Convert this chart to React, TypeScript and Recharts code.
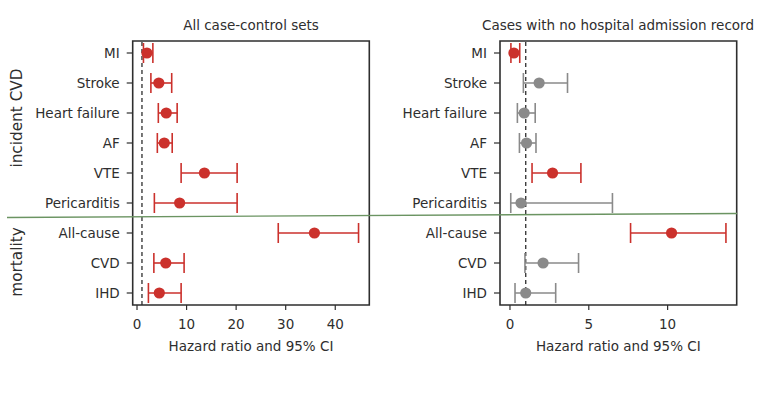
import React from "react";
import {
  ComposedChart,
  Scatter,
  ErrorBar,
  XAxis,
  YAxis,
  ReferenceLine,
  ReferenceArea,
} from "recharts";

// outcome rows, top to bottom
const outcomes = [
  "MI",
  "Stroke",
  "Heart failure",
  "AF",
  "VTE",
  "Pericarditis",
  "All-cause",
  "CVD",
  "IHD",
];

// all case-control sets
const allHr = [2.0, 4.4, 5.9, 5.5, 13.6, 8.6, 35.8, 5.8, 4.5];
const allLo = [1.3, 2.8, 4.3, 4.1, 8.9, 3.5, 28.5, 3.4, 2.3];
const allHi = [3.2, 7.0, 8.1, 7.1, 20.2, 20.2, 44.7, 9.5, 8.9];

// cases with no hospital admission record
const noAdmHr = [0.25, 1.85, 0.9, 1.05, 2.7, 0.7, 10.25, 2.1, 1.0];
const noAdmLo = [0.06, 0.85, 0.47, 0.6, 1.4, 0.05, 7.65, 0.95, 0.32];
const noAdmHi = [0.62, 3.65, 1.6, 1.65, 4.5, 6.5, 13.7, 4.35, 2.9];

const allTicks = [0, 10, 20, 30, 40];
const noAdmTicks = [0, 5, 10];

const RED = "#cb312c";
const GREY = "#8a8a8a";
const INK = "#2e2e2e";
const FONT = "DejaVu Sans";

const buildRows = (hr: number[], lo: number[], hi: number[]) =>
  hr.map((v, i) => ({
    row: i,
    hr: v,
    err: [v - lo[i], hi[i] - v],
    sig: lo[i] > 1 || hi[i] < 1,
  }));

const dot = (fill: string) => (p: any) =>
  <circle cx={p.cx} cy={p.cy} r={5.6} fill={fill} />;

interface PanelProps {
  hr: number[];
  lo: number[];
  hi: number[];
  ticks: number[];
  yWidth: number;
  width: number;
  marginRight: number;
}

const ROW_DOMAIN: [number, number] = [-0.4, 8.4];

const ForestPanel: React.FC<PanelProps> = ({ hr, lo, hi, ticks, yWidth, width, marginRight }) => {
  const rows = buildRows(hr, lo, hi);
  const red = rows.filter((r) => r.sig);
  const grey = rows.filter((r) => !r.sig);
  const min = Math.min(...lo);
  const max = Math.max(...hi);
  const pad = (max - min) * 0.05;
  const domain: [number, number] = [min - pad, max + pad];
  const tickStyle = { fontSize: 13.5, fill: INK, fontFamily: FONT };

  return (
    <ComposedChart
      width={width}
      height={396}
      margin={{ top: 41, right: marginRight, bottom: 45, left: 0 }}
    >
      <XAxis
        type="number"
        dataKey="hr"
        domain={domain}
        allowDataOverflow
        ticks={ticks}
        interval={0}
        tick={tickStyle}
        tickSize={5}
        tickMargin={9}
        axisLine={false}
        tickLine={{ stroke: INK, strokeWidth: 1.2 }}
        height={46}
        label={{
          value: "Hazard ratio and 95% CI",
          position: "insideBottom",
          offset: 0,
          fill: INK,
          fontSize: 13.5,
          fontFamily: FONT,
        }}
      />
      <YAxis
        type="number"
        dataKey="row"
        domain={ROW_DOMAIN}
        allowDataOverflow
        reversed
        ticks={outcomes.map((_, i) => i)}
        interval={0}
        tickFormatter={(i: number) => outcomes[i]}
        tick={tickStyle}
        tickSize={6}
        tickMargin={7}
        axisLine={false}
        tickLine={{ stroke: INK, strokeWidth: 1.2 }}
        width={yWidth}
      />
      <ReferenceArea
        x1={domain[0]}
        x2={domain[1]}
        y1={ROW_DOMAIN[0]}
        y2={ROW_DOMAIN[1]}
        fill="none"
        stroke={INK}
        strokeWidth={1.6}
        ifOverflow="visible"
      />
      <ReferenceLine x={1} stroke={INK} strokeDasharray="4 3" strokeWidth={1.3} />
      {grey.length > 0 && (
        <Scatter data={grey} shape={dot(GREY)} isAnimationActive={false}>
          <ErrorBar dataKey="err" direction="x" width={10} stroke={GREY} strokeWidth={1.6} />
        </Scatter>
      )}
      <Scatter data={red} shape={dot(RED)} isAnimationActive={false}>
        <ErrorBar dataKey="err" direction="x" width={10} stroke={RED} strokeWidth={1.6} />
      </Scatter>
    </ComposedChart>
  );
};

export default function App() {
  return (
    <div
      style={{
        position: "absolute",
        left: 0,
        top: 0,
        width: 762,
        height: 396,
        background: "#fff",
        fontFamily: FONT,
      }}
    >
      <div style={{ position: "absolute", left: 0, top: 0 }}>
        <ForestPanel
          hr={allHr}
          lo={allLo}
          hi={allHi}
          ticks={allTicks}
          yWidth={132.7}
          width={380}
          marginRight={10.7}
        />
      </div>
      <div style={{ position: "absolute", left: 380, top: 0 }}>
        <ForestPanel
          hr={noAdmHr}
          lo={noAdmLo}
          hi={noAdmHi}
          ticks={noAdmTicks}
          yWidth={120}
          width={382}
          marginRight={25.3}
        />
      </div>
      <svg
        width={762}
        height={396}
        style={{ position: "absolute", left: 0, top: 0, pointerEvents: "none" }}
      >
        <text x={251} y={25} textAnchor="middle" dominantBaseline="central" fontSize={13.5} fill={INK} fontFamily={FONT}>
          All case-control sets
        </text>
        <text x={618} y={25} textAnchor="middle" dominantBaseline="central" fontSize={13.5} fill={INK} fontFamily={FONT}>
          Cases with no hospital admission record
        </text>
        <text
          transform="translate(17,118) rotate(-90)"
          textAnchor="middle"
          dominantBaseline="central"
          fontSize={15.3}
          fill={INK}
          fontFamily={FONT}
        >
          incident CVD
        </text>
        <text
          transform="translate(17,262) rotate(-90)"
          textAnchor="middle"
          dominantBaseline="central"
          fontSize={15.3}
          fill={INK}
          fontFamily={FONT}
        >
          mortality
        </text>
        <line x1={7} y1={217.5} x2={737} y2={213.5} stroke="#6b9462" strokeWidth={1.4} />
      </svg>
    </div>
  );
}
